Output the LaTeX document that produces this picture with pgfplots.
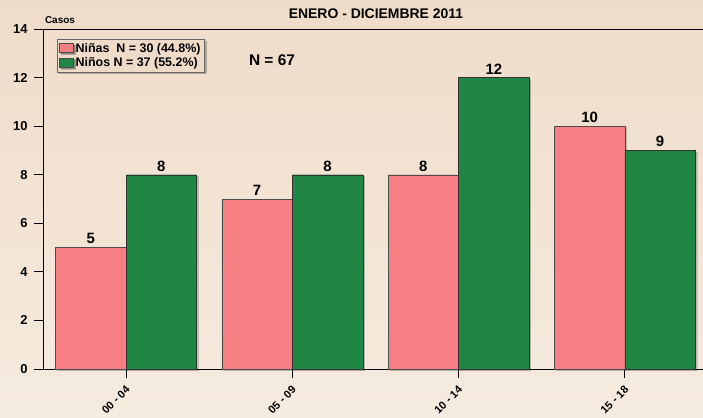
\documentclass[border=0pt]{standalone}
\usepackage{pgfplots}
\pgfplotsset{compat=1.18}
\usepackage{fontspec}
\setmainfont{Liberation Sans}
\usetikzlibrary{shadows}
\definecolor{bgtop}{RGB}{239,220,200}
\definecolor{bgbot}{RGB}{246,235,224}
\definecolor{pinkbar}{RGB}{245,127,131}
\definecolor{greenbar}{RGB}{31,135,67}
\pgfplotstableread{
x ninas ninos
0 5 8
1 7 8
2 8 12
3 10 9
}\datatable
\begin{document}
\begin{tikzpicture}[x=1bp,y=1bp]
\shade[top color=bgtop, bottom color=bgbot] (0,0) rectangle (703,417);
\path[use as bounding box] (0,0) rectangle (703,417);
\node[font=\bfseries\fontsize{14}{16}\selectfont] at (376,403) {ENERO - DICIEMBRE 2011};
\node[font=\bfseries\fontsize{10}{12}\selectfont] at (60,397) {Casos};
\node[font=\bfseries\fontsize{15.5}{18}\selectfont] at (272,357) {N = 67};
\begin{axis}[
  at={(43bp,48bp)}, anchor=south west,
  scale only axis, width=660bp, height=340bp,
  xmin=-0.5, xmax=3.47, ymin=0, ymax=14,
  axis x line*=bottom, axis y line*=left,
  axis line style={-, black, line width=0.8pt},
  ytick={0,2,...,14},
  xtick={0,1,2,3},
  xticklabels={00 - 04, 05 - 09, 10 - 14, 15 - 18},
  tick align=outside,
  major tick length=9bp,
  tick style={black, line width=0.8pt},
  /pgf/number format/assume math mode=true,
  yticklabel style={font=\bfseries\fontsize{13}{15}\selectfont, xshift=-3bp},
  xticklabel style={font=\bfseries\fontsize{11}{13}\selectfont, xshift=-1bp, yshift=-6bp, rotate=45, anchor=north east, inner sep=0.5bp},
  ybar=0pt, bar width=70.5bp,
  clip=false,
  nodes near coords,
  every node near coord/.append style={font=\bfseries\fontsize{15}{17}\selectfont, black, yshift=0bp},
  legend style={at={(0.0212,0.9706)}, anchor=north west, draw=gray!80!black, fill=bgtop,
    font=\bfseries\fontsize{12.5}{14}\selectfont, inner sep=2bp, row sep=0bp,
    drop shadow={shadow xshift=2bp, shadow yshift=-2bp, fill=black, opacity=0.25}},
  legend cell align=left,
  legend image code/.code={\draw[#1, draw=black!70] (0bp,-4bp) rectangle (14bp,5bp);},
]
\addplot[fill=pinkbar, draw=black!70, line width=0.4pt,
  drop shadow={shadow xshift=1.5bp, shadow yshift=-1.5bp, fill=black, opacity=0.2}]
  table[x=x, y=ninas] {\datatable};
\addplot[fill=greenbar, draw=black!80, line width=0.4pt,
  drop shadow={shadow xshift=1.5bp, shadow yshift=-1.5bp, fill=black, opacity=0.2}]
  table[x=x, y=ninos] {\datatable};
\legend{Niñas\ \ N = 30 (44.8\%), Niños N = 37 (55.2\%)}
\draw[black, line width=0.8pt] (rel axis cs:0,1) -- (rel axis cs:1,1);
\end{axis}
\end{tikzpicture}
\end{document}
